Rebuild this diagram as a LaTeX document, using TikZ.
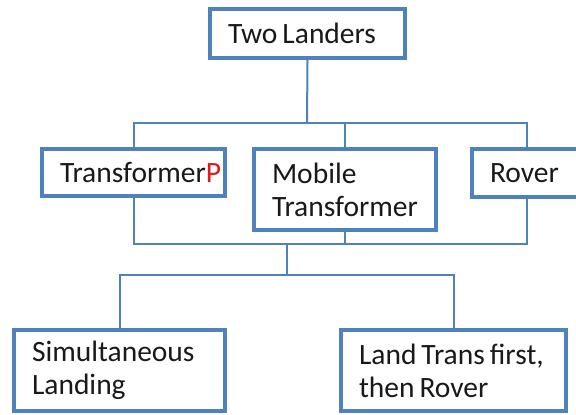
\documentclass[tikz,border=0pt]{standalone}
\usepackage{fontspec}
\setmainfont{Carlito}
\definecolor{boxblue}{RGB}{79,129,189}
\definecolor{markred}{RGB}{225,25,25}
\tikzset{
  box/.style={draw=boxblue, line width=4pt, rectangle, inner xsep=0pt, inner ysep=0pt,
    align=left, text=black!90, font=\fontsize{29.5}{33}\selectfont,
    execute at begin node={\leftskip=18pt\spaceskip=5pt\relax}},
  link/.style={draw=boxblue, line width=2pt}
}
\begin{document}
\begin{tikzpicture}[x=1pt,y=-1pt]
\useasboundingbox (0,0) rectangle (576,415);
\clip (0,0) rectangle (576,415);
\node[box, text width=195, minimum height=49] (two) at (307.5,33.5) {Two Landers};
\node[box, text width=183, minimum height=47] (tp) at (133.5,172.5) {Transformer\textcolor{markred}{P}};
\node[box, text width=182, minimum height=81] (mob) at (345,189.5) {Mobile\\Transformer};
\node[box, text width=110, minimum height=48] (rov) at (527,173) {Rover};
\node[box, text width=211, minimum height=81] (sim) at (119.5,370.5) {Simultaneous\\Landing};
\node[box, text width=225, minimum height=81] (land) at (453.5,370.5) {Land Trans first,\\then Rover};
\coordinate (busA) at (307,123);
\coordinate (busB) at (287,244);
\coordinate (busC) at (287,275);
\path[link] (two.south) -- (busA);
\path[link] (tp.north) |- (busA) -| (rov.north);
\path[link] (mob.north) -- (mob.north |- busA);
\path[link] (tp.south) |- (busB) -| (rov.south);
\path[link] (mob.south) -- (mob.south |- busB);
\path[link] (busB) -- (busC);
\path[link] (sim.north) |- (busC) -| (land.north);
\end{tikzpicture}
\end{document}
